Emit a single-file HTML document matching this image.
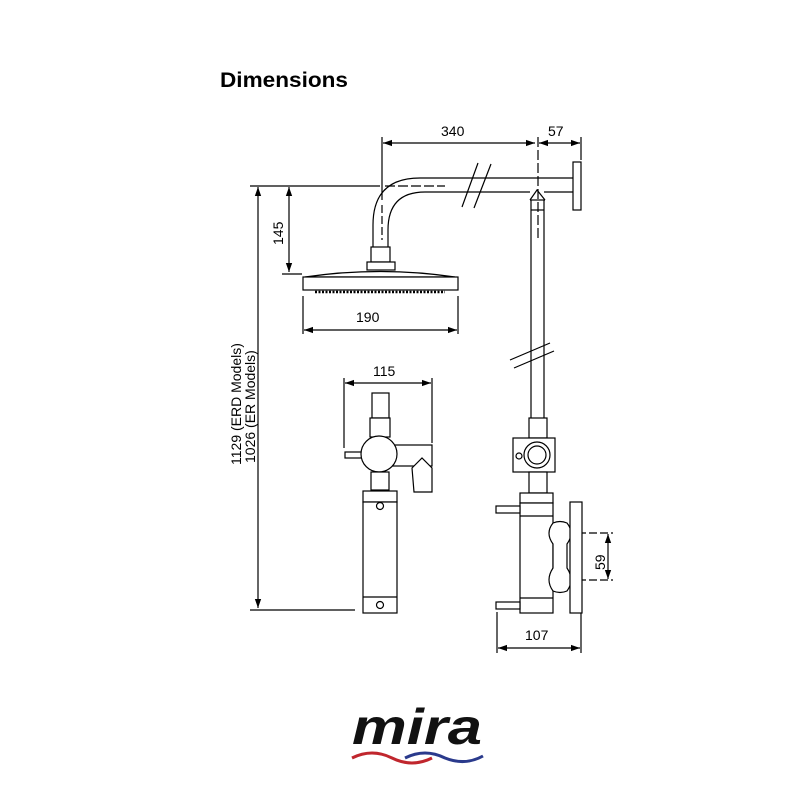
<!DOCTYPE html>
<html><head><style>body{margin:0;background:#fff}svg{display:block}</style></head><body>
<svg width="800" height="800" viewBox="0 0 800 800" xmlns="http://www.w3.org/2000/svg" font-family="Liberation Sans, Arial, sans-serif">
<defs>
<marker id="a" viewBox="0 0 10 10" refX="10" refY="5" markerWidth="9" markerHeight="9" orient="auto-start-reverse" markerUnits="userSpaceOnUse"><path d="M0,1.5 L10,5 L0,8.5z" fill="#000"/></marker>
</defs>
<rect width="800" height="800" fill="#fff"/>
<text x="220" y="87" font-size="21" font-weight="bold" textLength="128" lengthAdjust="spacingAndGlyphs">Dimensions</text>
<g stroke="#000" stroke-width="1.2" fill="none">
<line x1="383" y1="143" x2="535" y2="143" marker-start="url(#a)" marker-end="url(#a)"/>
<line x1="539" y1="143" x2="580" y2="143" marker-start="url(#a)" marker-end="url(#a)"/>
<line x1="382" y1="137" x2="382" y2="200"/>
<line x1="382" y1="205" x2="382" y2="240" stroke-dasharray="8,3"/>
<line x1="538" y1="137" x2="538" y2="240" stroke-dasharray="10,3"/>
<line x1="581" y1="137" x2="581" y2="160"/>
<line x1="250" y1="186" x2="380" y2="186"/>
<line x1="385" y1="186" x2="445" y2="186" stroke-dasharray="10,3"/>
<line x1="258" y1="187" x2="258" y2="608" marker-start="url(#a)" marker-end="url(#a)"/>
<line x1="250" y1="610" x2="355" y2="610"/>
<line x1="289" y1="187" x2="289" y2="272" marker-start="url(#a)" marker-end="url(#a)"/>
<line x1="282" y1="274" x2="302" y2="274"/>
<line x1="304" y1="330" x2="457" y2="330" marker-start="url(#a)" marker-end="url(#a)"/>
<line x1="303" y1="296" x2="303" y2="334"/>
<line x1="458" y1="296" x2="458" y2="334"/>
<line x1="345" y1="383" x2="431" y2="383" marker-start="url(#a)" marker-end="url(#a)"/>
<line x1="344" y1="378" x2="344" y2="448"/>
<line x1="432" y1="378" x2="432" y2="443"/>
<line x1="608" y1="534" x2="608" y2="579" marker-start="url(#a)" marker-end="url(#a)"/>
<line x1="545" y1="533" x2="613" y2="533" stroke-dasharray="8,3"/>
<line x1="545" y1="580" x2="613" y2="580" stroke-dasharray="8,3"/>
<line x1="498" y1="648" x2="580" y2="648" marker-start="url(#a)" marker-end="url(#a)"/>
<line x1="497" y1="612" x2="497" y2="653"/>
<line x1="581" y1="612" x2="581" y2="653"/>
<path d="M373,247 L373,225 Q373,178 420,178 L573,178"/>
<path d="M388,247 L388,230 Q388,192 425,192 L530,192"/>
<line x1="544" y1="192" x2="573" y2="192"/>
<line x1="462" y1="207" x2="478" y2="163"/>
<line x1="474" y1="208" x2="491" y2="164"/>
<rect x="573" y="162" width="8" height="48" fill="#fff"/>
<path d="M530,200 L537,190 L545,200"/>
<line x1="530" y1="200" x2="545" y2="200"/>
<rect x="371" y="247" width="19" height="15" fill="#fff"/>
<rect x="367" y="262" width="28" height="8" fill="#fff"/>
<path d="M305,277 Q380,266 455,277 Z" fill="#fff"/>
<rect x="303" y="277" width="155" height="13" fill="#fff"/>
<path d="M315,292 L445,292" stroke-dasharray="2,1.5" stroke-width="2.5"/>
<line x1="531" y1="200" x2="531" y2="428"/>
<line x1="544" y1="200" x2="544" y2="428"/>
<line x1="531" y1="210" x2="544" y2="210"/>
<line x1="510" y1="360" x2="550" y2="343"/>
<line x1="514" y1="368" x2="554" y2="351"/>
<rect x="529" y="418" width="18" height="20" fill="#fff"/>
<rect x="513" y="438" width="42" height="34" fill="#fff"/>
<circle cx="537" cy="455" r="13" fill="#fff"/>
<circle cx="537" cy="455" r="9"/>
<circle cx="519" cy="456" r="3"/>
<rect x="529" y="472" width="18" height="21" fill="#fff"/>
<rect x="520" y="493" width="33" height="10" fill="#fff"/>
<rect x="520" y="503" width="33" height="110" fill="#fff"/>
<line x1="520" y1="516" x2="553" y2="516"/>
<line x1="520" y1="598" x2="553" y2="598"/>
<rect x="496" y="506" width="24" height="7" fill="#fff"/>
<rect x="496" y="602" width="24" height="7" fill="#fff"/>
<path d="M553,523 Q560,520 567,523 Q575,533 567,544 L567,568 Q575,580 567,591 Q560,594 553,591 Q545,580 553,568 L553,544 Q545,533 553,523Z" fill="#fff"/>
<rect x="570" y="502" width="12" height="111" fill="#fff"/>
<rect x="372" y="393" width="17" height="25" fill="#fff"/>
<rect x="370" y="418" width="20" height="19" fill="#fff"/>
<rect x="345" y="452" width="20" height="6" fill="#fff"/>
<rect x="390" y="445" width="42" height="21" fill="#fff"/>
<circle cx="379" cy="454" r="18" fill="#fff"/>
<path d="M412,468 L422,458 L432,468 L432,492 L414,492 Z" fill="#fff"/>
<rect x="371" y="472" width="18" height="18" fill="#fff"/>
<rect x="363" y="491" width="34" height="11" fill="#fff"/>
<rect x="363" y="502" width="34" height="111" fill="#fff"/>
<line x1="363" y1="597" x2="397" y2="597"/>
<circle cx="380" cy="506" r="3.5"/>
<circle cx="380" cy="605" r="3.5"/>
</g>
<g font-size="14" fill="#000">
<text x="441" y="136">340</text>
<text x="548" y="136">57</text>
<text x="356" y="322">190</text>
<text x="373" y="376">115</text>
<text x="525" y="640">107</text>
<text transform="translate(283,245) rotate(-90)">145</text>
<text transform="translate(605,570) rotate(-90)">59</text>
<text transform="translate(241,465) rotate(-90)">1129 (ERD Models)</text>
<text transform="translate(255,463) rotate(-90)">1026 (ER Models)</text>
</g>
<text x="352" y="744" font-size="50" font-weight="900" font-style="italic" fill="#111" textLength="130" lengthAdjust="spacingAndGlyphs">mira</text>
<path d="M352,758 Q372,748 392,758 Q412,768 432,758" stroke="#c0262d" stroke-width="3" fill="none"/>
<path d="M405,758 Q425,748 445,758 Q465,766 483,756" stroke="#2a3a8c" stroke-width="3" fill="none"/>
</svg>
</body></html>
